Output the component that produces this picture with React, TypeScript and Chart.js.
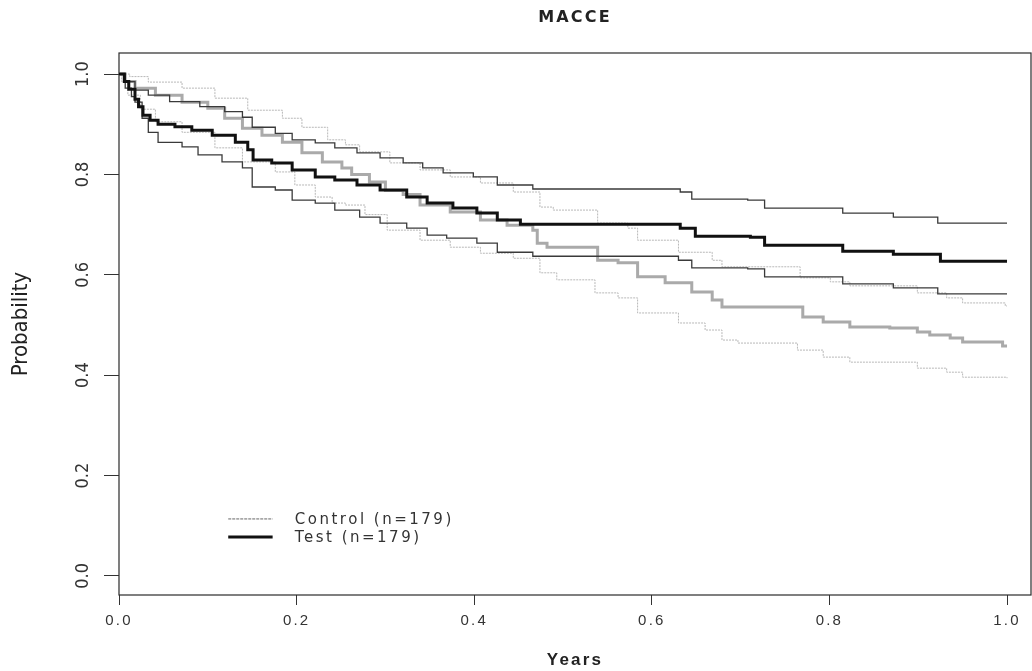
import React, { useEffect, useRef } from 'react';
import { Chart, registerables } from 'chart.js';

Chart.register(...registerables);

// ---- Text ----
const chartTitle = 'MACCE';
const xTitle = 'Years';
const yTitle = 'Probability';
const legendLabels = ['Control (n=179)', 'Test (n=179)'];

// ---- Axis ticks ----
const xTicks = [0, 0.2, 0.4, 0.6, 0.8, 1.0];
const xTickLabels = ['0.0', '0.2', '0.4', '0.6', '0.8', '1.0'];
const yTicks = [0, 0.2, 0.4, 0.6, 0.8, 1.0];
const yTickLabels = ['0.0', '0.2', '0.4', '0.6', '0.8', '1.0'];

// ---- Test group (Kaplan-Meier estimate) ----
const testTimes = [0, 0.006, 0.011, 0.018, 0.022, 0.027, 0.035, 0.044, 0.063, 0.082, 0.105, 0.131, 0.145, 0.151, 0.172, 0.195, 0.221, 0.243, 0.268, 0.294, 0.324, 0.347, 0.376, 0.403, 0.426, 0.452, 0.632, 0.649, 0.711, 0.727, 0.815, 0.872, 0.925, 1.0];
const testSurv = [1.0, 0.985, 0.97, 0.95, 0.935, 0.918, 0.908, 0.9, 0.895, 0.888, 0.878, 0.864, 0.849, 0.829, 0.823, 0.809, 0.795, 0.789, 0.779, 0.769, 0.755, 0.743, 0.733, 0.723, 0.709, 0.701, 0.693, 0.677, 0.675, 0.659, 0.647, 0.641, 0.627, 0.627];

const testUpperTimes = [0, 0.007, 0.018, 0.033, 0.057, 0.091, 0.119, 0.139, 0.15, 0.176, 0.195, 0.221, 0.243, 0.268, 0.294, 0.32, 0.342, 0.365, 0.399, 0.426, 0.466, 0.632, 0.645, 0.708, 0.727, 0.815, 0.872, 0.922, 1.0];
const testUpper = [1.0, 0.985, 0.968, 0.958, 0.945, 0.935, 0.925, 0.914, 0.894, 0.882, 0.869, 0.863, 0.853, 0.843, 0.833, 0.823, 0.813, 0.803, 0.795, 0.779, 0.771, 0.765, 0.751, 0.749, 0.733, 0.723, 0.715, 0.703, 0.703];

const testLowerTimes = [0, 0.007, 0.014, 0.018, 0.026, 0.033, 0.044, 0.071, 0.089, 0.116, 0.139, 0.15, 0.176, 0.195, 0.221, 0.243, 0.271, 0.294, 0.324, 0.347, 0.369, 0.403, 0.426, 0.466, 0.63, 0.645, 0.708, 0.727, 0.815, 0.872, 0.922, 1.0];
const testLower = [1.0, 0.972, 0.955, 0.944, 0.912, 0.884, 0.864, 0.855, 0.839, 0.825, 0.813, 0.775, 0.769, 0.749, 0.743, 0.729, 0.715, 0.703, 0.693, 0.679, 0.673, 0.663, 0.645, 0.637, 0.629, 0.614, 0.612, 0.596, 0.582, 0.574, 0.562, 0.562];

// ---- Control group (Kaplan-Meier estimate) ----
const controlTimes = [0, 0.007, 0.018, 0.041, 0.071, 0.1, 0.119, 0.139, 0.161, 0.184, 0.206, 0.229, 0.251, 0.262, 0.282, 0.3, 0.32, 0.339, 0.373, 0.407, 0.437, 0.466, 0.471, 0.482, 0.539, 0.562, 0.584, 0.615, 0.645, 0.668, 0.679, 0.77, 0.793, 0.823, 0.868, 0.899, 0.913, 0.936, 0.95, 0.995, 1.0];
const controlSurv = [1.0, 0.985, 0.972, 0.958, 0.944, 0.932, 0.912, 0.892, 0.878, 0.864, 0.843, 0.825, 0.813, 0.8, 0.785, 0.768, 0.76, 0.739, 0.725, 0.709, 0.699, 0.689, 0.663, 0.655, 0.629, 0.624, 0.596, 0.584, 0.566, 0.55, 0.536, 0.516, 0.506, 0.496, 0.494, 0.486, 0.48, 0.474, 0.466, 0.458, 0.458];

const controlUpperTimes = [0, 0.012, 0.033, 0.071, 0.108, 0.145, 0.184, 0.206, 0.235, 0.255, 0.271, 0.305, 0.339, 0.373, 0.407, 0.444, 0.474, 0.489, 0.539, 0.573, 0.584, 0.63, 0.668, 0.679, 0.767, 0.801, 0.823, 0.899, 0.932, 0.95, 0.998, 1.0];
const controlUpper = [1.0, 0.995, 0.984, 0.972, 0.952, 0.928, 0.912, 0.894, 0.869, 0.859, 0.845, 0.823, 0.809, 0.795, 0.783, 0.765, 0.735, 0.729, 0.703, 0.693, 0.669, 0.645, 0.629, 0.616, 0.594, 0.586, 0.578, 0.564, 0.554, 0.544, 0.538, 0.538];

const controlLowerTimes = [0, 0.003, 0.01, 0.024, 0.041, 0.071, 0.108, 0.139, 0.176, 0.198, 0.221, 0.24, 0.255, 0.277, 0.302, 0.339, 0.373, 0.407, 0.444, 0.474, 0.493, 0.536, 0.562, 0.584, 0.63, 0.66, 0.679, 0.697, 0.764, 0.793, 0.823, 0.899, 0.932, 0.95, 1.0];
const controlLower = [1.0, 0.985, 0.958, 0.93, 0.905, 0.884, 0.853, 0.825, 0.805, 0.779, 0.755, 0.743, 0.739, 0.72, 0.689, 0.669, 0.655, 0.643, 0.633, 0.604, 0.59, 0.564, 0.554, 0.524, 0.504, 0.49, 0.47, 0.464, 0.45, 0.436, 0.426, 0.414, 0.406, 0.396, 0.394];

const pts = (t: number[], v: number[]) => t.map((x, i) => ({ x, y: v[i] }));

const narrowFamily = "'Liberation Sans Narrow', 'DejaVu Sans Condensed', 'Liberation Sans', sans-serif";

const spacingPlugin = {
  id: 'spacing',
  beforeDraw(chart: any) {
    chart.ctx.letterSpacing = '2.2px';
  },
  afterDatasetsDraw(chart: any) {
    chart.ctx.letterSpacing = '0px';
  },
};

const boxPlugin = {
  id: 'plotBox',
  beforeDatasetsDraw(chart: any) {
    const { ctx, chartArea } = chart;
    ctx.save();
    ctx.strokeStyle = '#2a2a2a';
    ctx.lineWidth = 1.2;
    ctx.strokeRect(chartArea.left, chartArea.top, chartArea.right - chartArea.left, chartArea.bottom - chartArea.top);
    ctx.restore();
  },
};

const legendPlugin = {
  id: 'kmLegend',
  afterDraw(chart: any) {
    const { ctx } = chart;
    const xs = chart.scales.x;
    const ys = chart.scales.y;
    const lx0 = xs.getPixelForValue(0.123);
    const lx1 = xs.getPixelForValue(0.173);
    const tx = xs.getPixelForValue(0.198);
    const rows = [ys.getPixelForValue(0.1135), ys.getPixelForValue(0.0777)];
    const styles = [
      { color: '#a8a8a8', width: 1.8, dash: [3, 1] },
      { color: '#111111', width: 3, dash: [] as number[] },
    ];
    ctx.save();
    rows.forEach((ry: number, i: number) => {
      ctx.beginPath();
      ctx.strokeStyle = styles[i].color;
      ctx.lineWidth = styles[i].width;
      ctx.setLineDash(styles[i].dash);
      ctx.moveTo(lx0, ry);
      ctx.lineTo(lx1, ry);
      ctx.stroke();
      ctx.setLineDash([]);
      ctx.letterSpacing = '2.5px';
      ctx.fillStyle = '#333';
      ctx.font = "15px 'DejaVu Sans', sans-serif";
      ctx.textAlign = 'left';
      ctx.textBaseline = 'middle';
      ctx.fillText(legendLabels[i], tx, ry + 1.5);
    });
    ctx.letterSpacing = '0px';
    ctx.restore();
  },
};

export default function App() {
  const canvasRef = useRef<HTMLCanvasElement | null>(null);

  useEffect(() => {
    if (!canvasRef.current) return;
    const chart = new Chart(canvasRef.current, {
      type: 'line',
      data: {
        datasets: [
          { label: 'Test', data: pts(testTimes, testSurv), borderColor: '#111111', borderWidth: 3, stepped: true, pointRadius: 0, fill: false },
          { label: 'Test upper', data: pts(testUpperTimes, testUpper), borderColor: '#3a3a3a', borderWidth: 1.3, stepped: true, pointRadius: 0, fill: false },
          { label: 'Test lower', data: pts(testLowerTimes, testLower), borderColor: '#3a3a3a', borderWidth: 1.3, stepped: true, pointRadius: 0, fill: false },
          { label: 'Control', data: pts(controlTimes, controlSurv), borderColor: '#aaaaaa', borderWidth: 3, stepped: true, pointRadius: 0, fill: false },
          { label: 'Control upper', data: pts(controlUpperTimes, controlUpper), borderColor: '#b8b8b8', borderWidth: 1, borderDash: [2, 1], stepped: true, pointRadius: 0, fill: false },
          { label: 'Control lower', data: pts(controlLowerTimes, controlLower), borderColor: '#b8b8b8', borderWidth: 1, borderDash: [2, 1], stepped: true, pointRadius: 0, fill: false },
        ],
      } as any,
      options: {
        animation: false,
        responsive: false,
        maintainAspectRatio: false,
        layout: { padding: { left: 0, top: 0, right: 1, bottom: 0 } },
        plugins: {
          legend: { display: false },
          tooltip: { enabled: false },
          title: {
            display: true,
            text: chartTitle,
            fullSize: false,
            color: '#222',
            font: { family: "'DejaVu Sans', sans-serif", size: 16, weight: 'bold' },
            padding: { top: 8, bottom: 25.8 },
          },
        },
        scales: {
          x: {
            type: 'linear',
            min: 0,
            max: 1.027,
            afterBuildTicks: (ax: any) => { ax.ticks = xTicks.map((v) => ({ value: v })); },
            afterFit: (ax: any) => { ax.height = 76; },
            grid: { drawOnChartArea: false, drawTicks: true, tickLength: 10, color: '#333', lineWidth: 1 },
            border: { display: false },
            ticks: {
              autoSkip: false,
              maxRotation: 0,
              padding: 7,
              color: '#333',
              font: { family: "'Liberation Sans', sans-serif", size: 15 },
              callback: (_v: any, i: number) => xTickLabels[i],
            },
            title: {
              display: true,
              text: xTitle,
              color: '#222',
              font: { family: "'Liberation Sans', sans-serif", size: 17, weight: 'bold' },
              padding: { top: 0, bottom: 0 },
            },
          },
          y: {
            type: 'linear',
            min: -0.038,
            max: 1.042,
            afterBuildTicks: (ax: any) => { ax.ticks = yTicks.map((v) => ({ value: v })); },
            afterFit: (ax: any) => { ax.width = 119; },
            grid: { drawOnChartArea: false, drawTicks: true, tickLength: 15, color: '#333', lineWidth: 1, z: 1 },
            border: { display: false },
            ticks: {
              z: 1,
              autoSkip: false,
              minRotation: 90,
              maxRotation: 90,
              crossAlign: 'center',
              padding: 8,
              color: '#333',
              font: { family: narrowFamily, size: 18 },
              callback: (_v: any, i: number) => yTickLabels[i],
            },
            title: {
              display: true,
              text: yTitle,
              color: '#222',
              font: { family: narrowFamily, size: 22 },
              padding: { top: 8, bottom: 0 },
            },
          },
        },
      } as any,
      plugins: [spacingPlugin, boxPlugin, legendPlugin],
    });
    return () => chart.destroy();
  }, []);

  return (
    <div style={{ position: 'absolute', left: 0, top: 0, width: 1032, height: 671, background: '#ffffff' }}>
      <canvas ref={canvasRef} width={1032} height={671} style={{ display: 'block', width: 1032, height: 671 }} />
    </div>
  );
}
